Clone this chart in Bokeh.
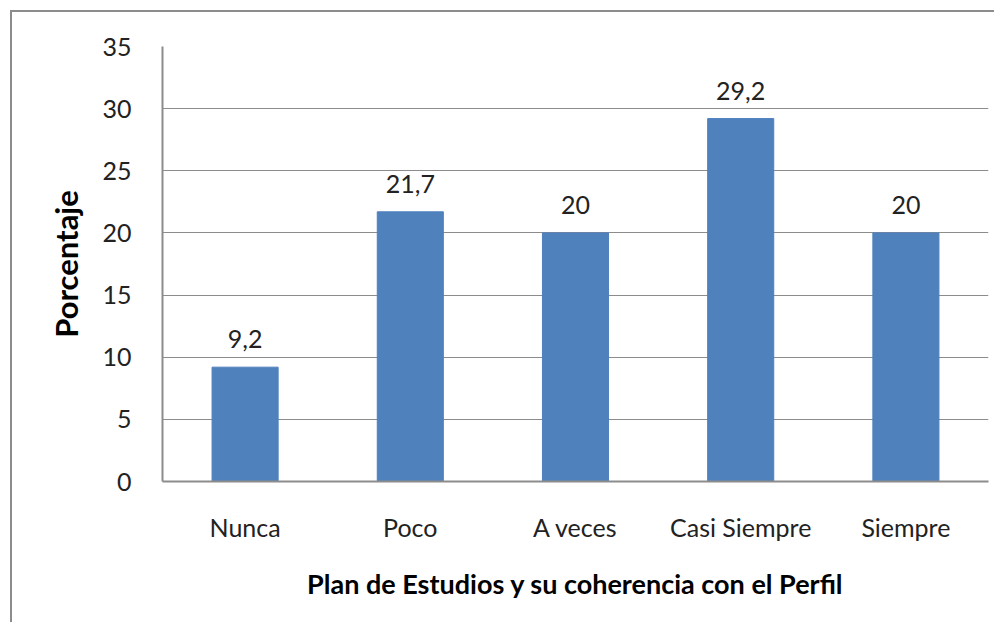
from bokeh.plotting import figure
from bokeh.models import ColumnDataSource, FixedTicker, LabelSet
from bokeh.core.properties import value
from bokeh.embed import file_html
from bokeh.resources import INLINE

categories = ["Nunca", "Poco", "A veces", "Casi Siempre", "Siempre"]
values = [9.2, 21.7, 20, 29.2, 20]
labels = ["9,2", "21,7", "20", "29,2", "20"]
y_ticks = [0, 5, 10, 15, 20, 25, 30, 35]

src = ColumnDataSource(dict(cat=categories, val=values, lab=labels))

p = figure(x_range=categories, y_range=(0, 35), width=984, height=612,
           output_backend="svg", toolbar_location=None,
           min_border_left=150, min_border_right=8, min_border_top=34,
           min_border_bottom=143)
p.styles = {"border-left": "2px solid #8c8c8c", "border-top": "2px solid #8c8c8c",
            "margin-left": "10px", "margin-top": "10px"}

p.vbar(x="cat", top="val", width=0.4, source=src, fill_color="#4F81BD",
       line_color="#4F81BD")

p.add_layout(LabelSet(x="cat", y="val", text="lab", source=src, y_offset=19,
                      text_align="center", text_baseline="bottom",
                      text_font=value("Lato"), text_font_size="25px",
                      text_color="#222222"))

p.outline_line_color = None
p.xgrid.grid_line_color = None
p.ygrid.grid_line_color = "#8c8c8c"
p.ygrid.grid_line_width = 1
p.yaxis.ticker = FixedTicker(ticks=y_ticks)

for ax in (p.xaxis, p.yaxis):
    ax.axis_line_color = "#8c8c8c"
    ax.axis_line_width = 2
    ax.major_tick_line_color = None
    ax.minor_tick_line_color = None
    ax.major_label_text_font = "Lato"
    ax.major_label_text_font_size = "25px"
    ax.major_label_text_color = "#222222"
    ax.axis_label_text_font = "Lato"
    ax.axis_label_text_font_style = "bold"
    ax.axis_label_text_color = "#000000"

p.yaxis.major_label_standoff = 25
p.xaxis.major_label_standoff = 24
p.xaxis.axis_label = "Plan de Estudios y su coherencia con el Perfil"
p.xaxis.axis_label_text_font_size = "27px"
p.xaxis.axis_label_standoff = 22
p.yaxis.axis_label = "Porcentaje"
p.yaxis.axis_label_text_font_size = "31px"
p.yaxis.axis_label_standoff = 14
p.x_range.range_padding = 0

open("out.html", "w").write(file_html(p, INLINE))
